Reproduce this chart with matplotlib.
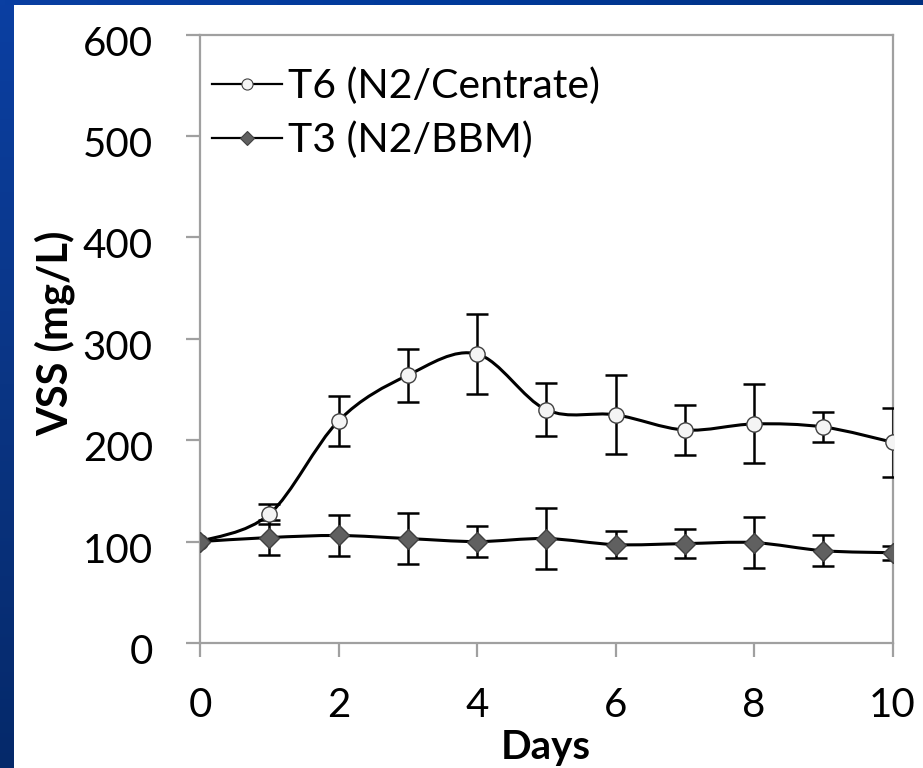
import numpy as np
import matplotlib
matplotlib.use('Agg')
import matplotlib.pyplot as plt
from matplotlib.path import Path
from matplotlib.patches import PathPatch
from matplotlib.lines import Line2D
from matplotlib.colors import LinearSegmentedColormap
import matplotlib.transforms as mtrans

# ---- data ----
days = [0, 1, 2, 3, 4, 5, 6, 7, 8, 9, 10]
t6_vals = [100, 127, 219, 264, 285, 230, 225, 210, 216, 213, 198]
t6_err = [0, 10, 25, 26, 39, 26, 39, 25, 39, 15, 34]
t3_vals = [100, 104, 106, 103, 100, 103, 97, 98, 99, 91, 89]
t3_err = [0, 17, 20, 25, 15, 30, 13, 14, 25, 15, 7]
series_names = ["T6 (N2/Centrate)", "T3 (N2/BBM)"]
x_ticks = [0, 2, 4, 6, 8, 10]
y_ticks = [0, 100, 200, 300, 400, 500, 600]

FONT = 'Lato'
W, H = 923, 768
fig = plt.figure(figsize=(W / 100, H / 100), dpi=100, facecolor='white')

# ---- blue slide background strips ----
left_ax = fig.add_axes([0, 0, 14 / W, 1], zorder=-5)
cm_left = LinearSegmentedColormap.from_list('l', ['#0a3fa2', '#0a3584', '#05296a'])
left_ax.imshow(np.linspace(0, 1, 200).reshape(-1, 1), aspect='auto', cmap=cm_left)
left_ax.axis('off')
top_ax = fig.add_axes([0, 1 - 5 / H, 1, 5 / H], zorder=-5)
cm_top = LinearSegmentedColormap.from_list('t', ['#0a3fa2', '#003a9a', '#003080'])
top_ax.imshow(np.linspace(0, 1, 200).reshape(1, -1), aspect='auto', cmap=cm_top)
top_ax.axis('off')

# ---- main axes ----
ax = fig.add_axes([200 / W, 1 - 643 / H, (892.5 - 200) / W, (643 - 34.5) / H])
ax.set_xlim(0, 10)
ax.set_ylim(0, 600)

gray = '#a0a0a0'
for sp in ax.spines.values():
    sp.set_color(gray)
    sp.set_linewidth(1.6)


def smooth_path(x, y):
    pts = np.column_stack([x, y]).astype(float)
    n = len(pts)
    verts = [pts[0]]
    codes = [Path.MOVETO]
    for i in range(n - 1):
        p0 = pts[max(i - 1, 0)]
        p1 = pts[i]
        p2 = pts[i + 1]
        p3 = pts[min(i + 2, n - 1)]
        c1 = p1 + (p2 - p0) / 6.0
        c2 = p2 - (p3 - p1) / 6.0
        verts += [c1, c2, p2]
        codes += [Path.CURVE4] * 3
    return Path(verts, codes)


for vals in (t6_vals, t3_vals):
    ax.add_patch(PathPatch(smooth_path(days, vals), facecolor='none',
                           edgecolor='black', lw=2.2, zorder=3))


def draw_err(vals, err):
    xs = [d for d, e in zip(days, err) if e > 0]
    ys = [v for v, e in zip(vals, err) if e > 0]
    es = [e for e in err if e > 0]
    ax.errorbar(xs, ys, yerr=es, fmt='none', ecolor='black', elinewidth=1.8,
                capsize=8, capthick=1.8, zorder=4)


draw_err(t6_vals, t6_err)
draw_err(t3_vals, t3_err)

ax.plot(days, t6_vals, linestyle='none', marker='o', markersize=11,
        markerfacecolor='#f4f4f4', markeredgecolor='#404040', markeredgewidth=1.0, zorder=5)
ax.plot(days, t3_vals, linestyle='none', marker='D', markersize=10,
        markerfacecolor='#606060', markeredgecolor='#404040', markeredgewidth=1.0, zorder=5)

# ---- ticks ----
ax.set_xticks(x_ticks)
ax.set_yticks(y_ticks)
ax.set_xticklabels([str(t) for t in x_ticks], fontfamily=FONT, fontsize=29)
ax.set_yticklabels([str(t) for t in y_ticks], fontfamily=FONT, fontsize=29)
ax.tick_params(axis='both', direction='out', color=gray, width=1.6, length=10)
ax.tick_params(axis='y', pad=24)
ax.tick_params(axis='x', pad=22)
offset = mtrans.ScaledTranslation(0, -6 / 100, fig.dpi_scale_trans)
for lab in ax.get_yticklabels():
    lab.set_transform(lab.get_transform() + offset)

# ---- axis titles ----
fig.text(546 / W, 1 - 748 / H, 'Days', fontfamily=FONT, fontweight='bold',
         fontsize=29, ha='center', va='center')
fig.text(55 / W, 1 - 333 / H, 'VSS (mg/L)', fontfamily=FONT, fontweight='bold',
         fontsize=30, ha='center', va='center', rotation=90)

# ---- legend ----
handles = [
    Line2D([], [], color='black', lw=1.6, marker='o', markersize=8,
           markerfacecolor='#f4f4f4', markeredgecolor='#404040', markeredgewidth=0.8),
    Line2D([], [], color='black', lw=1.6, marker='D', markersize=7,
           markerfacecolor='#606060', markeredgecolor='#404040', markeredgewidth=0.8),
]
leg = ax.legend(handles, series_names, loc='upper left',
                bbox_to_anchor=(0, 1 - 21 / 608.5), bbox_transform=ax.transAxes,
                frameon=False, prop={'family': FONT, 'size': 29.5},
                handlelength=1.7, handletextpad=0.15, labelspacing=0.4,
                borderaxespad=0.1, borderpad=0.2)

fig.savefig('out.png', dpi=100, facecolor='white')
